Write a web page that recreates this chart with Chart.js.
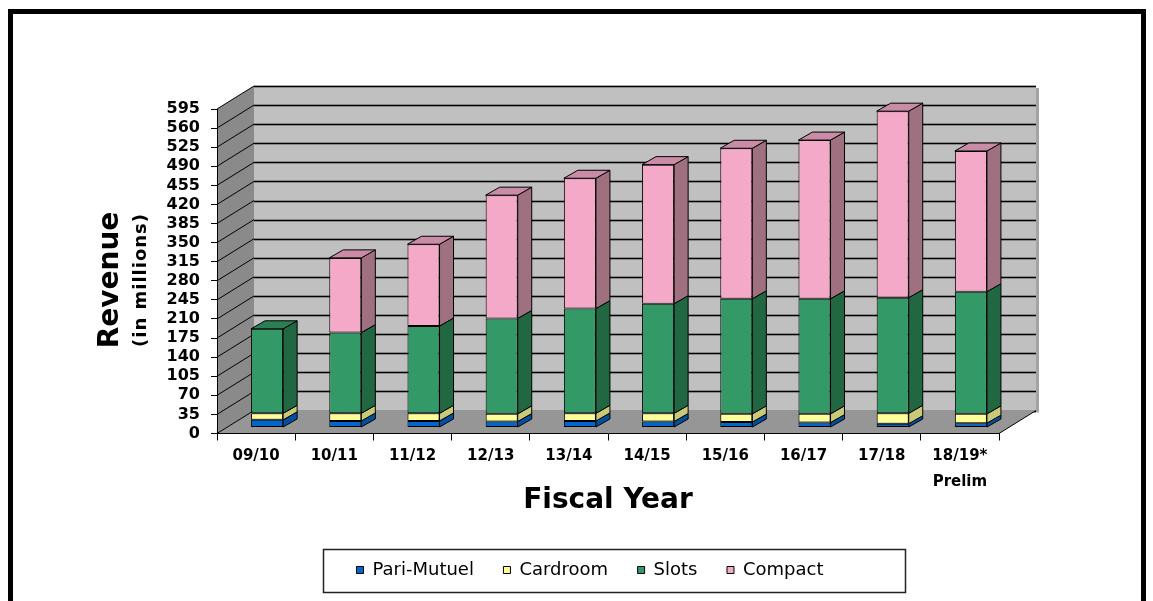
<!DOCTYPE html>
<html>
<head>
<meta charset="utf-8">
<script src="https://cdn.jsdelivr.net/npm/chart.js@4.4.1/dist/chart.umd.min.js"></script>
<style>
  html, body { margin: 0; padding: 0; background: #fff; }
</style>
</head>
<body>
<canvas id="c" width="1153" height="601"></canvas>
<script>
// revenue by fiscal year, $ millions
const fiscalYears = ["09/10", "10/11", "11/12", "12/13", "13/14", "14/15", "15/16", "16/17", "17/18", ["18/19*", "Prelim"]];
const pariMutuel = [14, 12, 12, 11, 12, 11, 10, 9, 7, 8];
const cardroom   = [12, 14, 14, 14, 14, 15, 15, 16, 19, 17];
const slots      = [155, 148, 160, 175, 192, 201, 211, 211, 212, 224];
const compact    = [null, 137, 150, 226, 239, 255, 276, 291, 342, 258];
const yMax = 595;
const yStep = 35;

// front / side / top face colours
const FACE = {
  pari:    ["#0066cc", "#00509f", "#0059b3"],
  card:    ["#ffff99", "#c9c977", "#e0e088"],
  slots:   ["#339966", "#216742", "#2a8054"],
  compact: ["#f4a9c8", "#9e7080", "#c98ba6"]
};

// ── 3D geometry ─────────────────────────────────────────────
const DEPTH = { x: 37, y: -23 };      // floor / wall depth
const BAR_OFF = { x: 11, y: -6 };     // bar front face sits this far back
const BAR_DEPTH = { x: 14, y: -8 };   // thickness of each bar

function poly(ctx, pts, fill, stroke) {
  ctx.beginPath();
  ctx.moveTo(pts[0][0], pts[0][1]);
  for (let i = 1; i < pts.length; i++) ctx.lineTo(pts[i][0], pts[i][1]);
  ctx.closePath();
  if (fill) { ctx.fillStyle = fill; ctx.fill(); }
  if (stroke) { ctx.strokeStyle = stroke; ctx.lineWidth = 1; ctx.stroke(); }
}

function line(ctx, x1, y1, x2, y2) {
  ctx.beginPath(); ctx.moveTo(x1, y1); ctx.lineTo(x2, y2); ctx.stroke();
}

const walls = {
  id: "walls",
  beforeDraw(chart) {
    const { ctx, chartArea: a, scales: { y } } = chart;
    const L = a.left, R = a.right, T = a.top, B = a.bottom;
    const dx = DEPTH.x, dy = DEPTH.y;
    ctx.save();
    ctx.fillStyle = "#fff";
    ctx.fillRect(0, 0, chart.width, chart.height);

    // back wall + its grid
    poly(ctx, [[L + dx, T + dy], [R + dx, T + dy], [R + dx, B + dy], [L + dx, B + dy]], "#c0c0c0");
    ctx.fillStyle = "#a4a4a4";
    ctx.fillRect(R + dx, T + dy + 2, 3, B - T);
    y.ticks.forEach(t => {
      const py = Math.round(y.getPixelForValue(t.value) + dy) + 0.5;
      ctx.strokeStyle = "rgba(90,90,90,0.55)"; ctx.lineWidth = 3;
      line(ctx, L + dx, py, R + dx, py);
      ctx.strokeStyle = "#000"; ctx.lineWidth = 1;
      line(ctx, L + dx, py, R + dx, py);
    });

    // floor
    poly(ctx, [[L, B], [R, B], [R + dx, B + dy], [L + dx, B + dy]], "#969696");
    ctx.strokeStyle = "#000"; ctx.lineWidth = 1;
    line(ctx, R, B, R + dx, B + dy);

    // left side wall with diagonal tick lines
    poly(ctx, [[L, B], [L, T], [L + dx, T + dy], [L + dx, B + dy]], "#8a8a8a");
    ctx.strokeStyle = "#000"; ctx.lineWidth = 1;
    y.ticks.forEach(t => {
      const py = y.getPixelForValue(t.value);
      line(ctx, L, py, L + dx, py + dy);
    });
    ctx.restore();
  }
};

const bars3d = {
  id: "bars3d",
  beforeDatasetsDraw(chart) {
    chart.ctx.save();
    chart.ctx.translate(BAR_OFF.x, BAR_OFF.y);
  },
  afterDatasetsDraw(chart) {
    const ctx = chart.ctx;
    const sx = BAR_DEPTH.x, sy = BAR_DEPTH.y;
    for (let i = 0; i < chart.data.labels.length; i++) {
      let topIdx = -1;
      chart.data.datasets.forEach((ds, d) => {
        const el = chart.getDatasetMeta(d).data[i];
        if (!el || ds.data[i] == null || ds.data[i] === 0) return;
        const r = el.x + el.width / 2;
        poly(ctx, [[r, el.y], [r + sx, el.y + sy], [r + sx, el.base + sy], [r, el.base]], ds.sideColor, "#000");
        topIdx = d;
      });
      if (topIdx >= 0) {
        const el = chart.getDatasetMeta(topIdx).data[i];
        const l = el.x - el.width / 2, r = el.x + el.width / 2;
        poly(ctx, [[l, el.y], [l + sx, el.y + sy], [r + sx, el.y + sy], [r, el.y]], chart.data.datasets[topIdx].topColor, "#000");
      }
    }
    ctx.restore();
  }
};

const decor = {
  id: "decor",
  afterDraw(chart) {
    const ctx = chart.ctx;
    ctx.save();
    // y axis title, two lines
    ctx.fillStyle = "#000";
    ctx.textAlign = "center";
    ctx.textBaseline = "middle";
    ctx.translate(111, 280);
    ctx.rotate(-Math.PI / 2);
    ctx.font = "bold 28px 'DejaVu Sans'";
    ctx.fillText("Revenue", 0, 0);
    ctx.font = "bold 18px 'DejaVu Sans'";
    ctx.letterSpacing = "1px";
    ctx.fillText("(in millions)", 0, 30);
    ctx.restore();

    // legend frame
    ctx.save();
    ctx.strokeStyle = "#222";
    ctx.lineWidth = 1.5;
    ctx.strokeRect(323.5, 549.5, 582, 43);
    // outer chart frame (bottom edge is cut off)
    ctx.fillStyle = "#000";
    ctx.fillRect(8, 9, 1138, 5);
    ctx.fillRect(8, 9, 5, 600);
    ctx.fillRect(1141, 9, 5, 600);
    ctx.restore();
  }
};

function series(label, data, face) {
  return {
    label, data,
    backgroundColor: face[0], sideColor: face[1], topColor: face[2],
    borderColor: "#000", borderWidth: 1, borderSkipped: false
  };
}

const boldFont = size => ({ family: "'DejaVu Sans'", weight: "bold", size });

new Chart(document.getElementById("c"), {
  type: "bar",
  data: {
    labels: fiscalYears,
    datasets: [
      series("Pari-Mutuel", pariMutuel, FACE.pari),
      series("Cardroom", cardroom, FACE.card),
      series("Slots", slots, FACE.slots),
      series("Compact", compact, FACE.compact)
    ]
  },
  options: {
    responsive: false,
    animation: false,
    events: [],
    layout: { padding: { left: 40, right: 13, top: 109, bottom: 12 } },
    datasets: { bar: { categoryPercentage: 1, barPercentage: 0.41, clip: false } },
    scales: {
      x: {
        stacked: true,
        grid: { display: true, drawOnChartArea: false, drawTicks: true, tickLength: 7, color: "#000", offset: true },
        border: { display: true, color: "#000" },
        ticks: { color: "#000", padding: 3, maxRotation: 0, autoSkip: false, font: { ...boldFont(15), lineHeight: 1.7 } },
        title: { display: true, text: "Fiscal Year", color: "#000", font: boldFont(28), padding: { top: 0, bottom: 14 } },
        afterFit(s) { s.height = 98; }
      },
      y: {
        stacked: true, min: 0, max: yMax,
        ticks: { stepSize: yStep, autoSkip: false, color: "#000", padding: 11, font: boldFont(16) },
        grid: { drawOnChartArea: false, tickLength: 6, color: "#000" },
        border: { color: "#000" },
        afterFit(s) { s.width = 177; }
      },
      y2: {
        position: "right", display: true,
        grid: { display: false }, ticks: { display: false }, border: { display: false },
        afterFit(s) { s.width = 141; }
      }
    },
    plugins: {
      legend: {
        position: "bottom",
        labels: { boxWidth: 7, boxHeight: 7, padding: 29.5, color: "#000", font: { family: "'DejaVu Sans'", size: 18 } }
      },
      tooltip: { enabled: false }
    }
  },
  plugins: [walls, bars3d, decor]
});
</script>
</body>
</html>
